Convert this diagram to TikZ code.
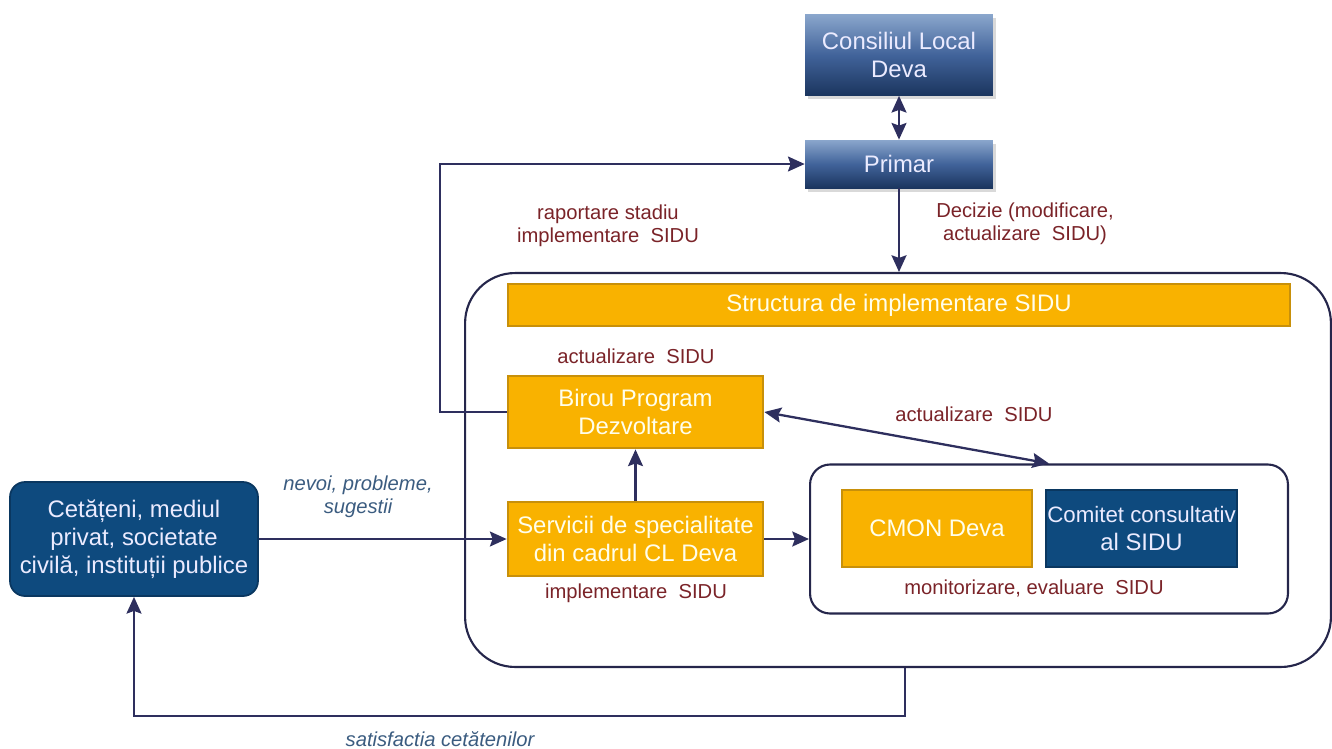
\documentclass[tikz,border=0pt]{standalone}
\usepackage{fontspec}
\setmainfont{Liberation Sans}
\usepackage{tikz}
\usetikzlibrary{positioning, arrows.meta, shadows}

\definecolor{navy}{HTML}{2E2F5E}
\definecolor{gold}{HTML}{F9B200}
\definecolor{golddark}{HTML}{C8900A}
\definecolor{deepblue}{HTML}{0E4A7E}
\definecolor{deepblueline}{HTML}{0A3760}
\definecolor{wine}{HTML}{7A2328}
\definecolor{slate}{HTML}{3B5C80}
\definecolor{steeltop}{HTML}{8AA6CC}
\definecolor{steelmid}{HTML}{41639A}
\definecolor{steelbot}{HTML}{1B355E}

\newcommand{\boxfont}{\fontsize{13.6}{16}\selectfont}
\newcommand{\lblfont}{\fontsize{11.5}{13}\selectfont}

\tikzset{
  orangebox/.style={draw=golddark, line width=1.6pt, fill=gold, text=white!92!yellow,
    font=\boxfont, align=center, inner sep=2pt},
  bluebox/.style={draw=deepblueline, line width=1pt, fill=deepblue, text=white!92!blue,
    font=\boxfont, align=center, inner sep=2pt},
  steelbox/.style={top color=steeltop, bottom color=steelbot, middle color=steelmid,
    draw=none, text=white!92!blue, font=\boxfont, align=center,
    drop shadow={opacity=0.3, shadow xshift=1.5pt, shadow yshift=-2pt}},
  groupframe/.style={draw=navy!80!black, line width=1.2pt},
  arr/.style={draw=navy, line width=1.3pt},
  lbl/.style={text=wine, font=\lblfont, align=center},
  note/.style={text=slate, font=\lblfont\itshape, align=center},
}

\begin{document}
\begin{tikzpicture}[x=0.02cm, y=-0.02cm, >={Stealth[length=9.5pt,width=8.5pt,inset=1.5pt]}]
    \useasboundingbox (0,0) rectangle (1332,748);

    % frames
    \node[groupframe, rounded corners=1cm, minimum width=17.32cm, minimum height=7.88cm] (impl) at (898,470) {};
    \node[groupframe, rounded corners=0.4cm, minimum width=9.56cm, minimum height=2.98cm] (monitor) at (1049,539) {};

    % leadership
    \node[steelbox, minimum width=3.76cm, minimum height=1.62cm] (consiliu) at (899,55) {Consiliul Local\\Deva};
    \node[steelbox, minimum width=3.76cm, minimum height=0.96cm] (primar) at (899,164) {Primar};

    % implementation structure
    \node[orangebox, minimum width=15.64cm, minimum height=0.84cm] (structura) at (899,305) {Structura de implementare SIDU};
    \node[orangebox, minimum width=5.1cm, minimum height=1.44cm] (birou) at (635.5,412) {Birou Program\\Dezvoltare};
    \node[orangebox, minimum width=5.1cm, minimum height=1.48cm] (servicii) at (635.5,539) {Servicii de specialitate\\din cadrul CL Deva};
    \node[orangebox, minimum width=3.8cm, minimum height=1.54cm] (cmon) at (937,528.5) {CMON Deva};
    \node[bluebox, inner sep=0pt, minimum width=3.82cm, minimum height=1.54cm] (comitet) at (1141.5,528.5)
        {\fontsize{12.7}{15.5}\selectfont Comitet consultativ\\al SIDU};

    % citizens
    \node[bluebox, rounded corners=0.3cm, minimum width=4.96cm, minimum height=2.28cm] (cetateni) at (134,539)
        {\fontsize{13.6}{17}\selectfont Cetățeni, mediul\\privat, societate\\civilă, instituții publice};

    % connectors
    \coordinate (raport) at (440,412);
    \coordinate (satisf) at (905,716);
    \draw[arr, <->] (consiliu) -- (primar);
    \draw[arr, ->] (primar) -- (primar |- impl.north);
    \draw[arr, ->] (birou.west) -- (raport) |- (primar.west);
    \draw[arr, ->] (servicii) -- (birou);
    \draw[arr, <->] (birou.east) -- (monitor.north);
    \draw[arr, ->] (servicii) -- (monitor);
    \draw[arr, ->] (cetateni) -- (servicii);
    \draw[arr, ->] (impl.south -| satisf) -- (satisf) -| (cetateni.south);

    % labels
    \node[lbl] (lraport) at (608,226) {raportare stadiu\\implementare\ \ SIDU};
    \node[lbl] (ldecizie) at (1025,224) {Decizie (modificare,\\actualizare\ \ SIDU)};
    \node[lbl] (lbirou) at (636,356) {actualizare\ \ SIDU};
    \node[lbl] (lactual) at (974,414) {actualizare\ \ SIDU};
    \node[lbl] (lservicii) at (636,593) {implementare\ \ SIDU};
    \node[lbl] (lmonitor) at (1034,588) {monitorizare, evaluare\ \ SIDU};
    \node[note] (lnevoi) at (358,497) {nevoi, probleme,\\sugestii};
    \node[note] (lsatisf) at (440,739) {satisfactia cetătenilor};
\end{tikzpicture}
\end{document}
